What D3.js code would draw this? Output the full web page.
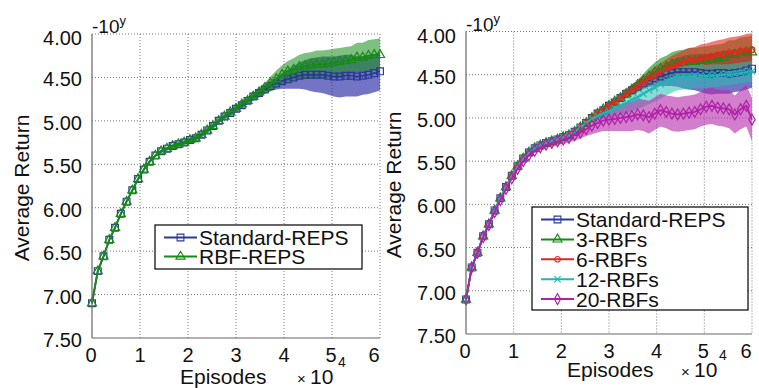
<!DOCTYPE html>
<html><head><meta charset="utf-8">
<script src="https://cdn.jsdelivr.net/npm/d3@7"></script>
<style>body{margin:0;background:#fff}svg{display:block}text{font-family:"Liberation Sans",Arial,Helvetica,sans-serif;fill:#111}</style>
</head><body><svg id="c" width="759" height="388"></svg>
<script>
const episodes = [0,1200,2400,3600,4800,6000,7200,8400,9600,10800,12000,13200,14400,15600,16800,18000,19200,20400,21600,22800,24000,25200,26400,27600,28800,30000,31200,32400,33600,34800,36000,37200,38400,39600,40800,42000,43200,44400,45600,46800,48000,49200,50400,51600,52800,54000,55200,56400,57600,58800,60000];
const yTicks = [4.0,4.5,5.0,5.5,6.0,6.5,7.0,7.5];
const xTicks = [0,10000,20000,30000,40000,50000,60000];
const xTickLabels = ["0","1","2","3","4","5","6"];

const standardMean = [7.10,6.73,6.56,6.37,6.23,6.07,5.93,5.80,5.67,5.56,
 5.47,5.40,5.35,5.32,5.29,5.27,5.25,5.22,5.20,5.16,
 5.11,5.06,5.00,4.95,4.91,4.86,4.82,4.77,4.72,4.68,
 4.64,4.60,4.57,4.54,4.52,4.50,4.48,4.47,4.47,4.47,
 4.47,4.48,4.49,4.49,4.48,4.48,4.49,4.48,4.47,4.45,4.43];
const standardSpread = [0.01,0.01,0.01,0.01,0.01,0.01,0.01,0.01,0.01,0.01,
 0.015,0.015,0.02,0.02,0.02,0.025,0.025,0.025,0.03,0.03,
 0.03,0.03,0.03,0.03,0.035,0.035,0.04,0.04,0.045,0.05,
 0.05,0.06,0.07,0.09,0.11,0.13,0.15,0.17,0.19,0.2,
 0.21,0.22,0.23,0.24,0.24,0.24,0.23,0.22,0.22,0.22,0.22];

const rbf3Mean = [7.10,6.73,6.56,6.37,6.23,6.07,5.93,5.80,5.67,5.56,
 5.47,5.40,5.35,5.32,5.29,5.27,5.25,5.22,5.20,5.16,
 5.11,5.06,5.00,4.95,4.90,4.86,4.81,4.77,4.72,4.67,
 4.62,4.57,4.52,4.47,4.43,4.41,4.38,4.37,4.36,4.35,
 4.35,4.34,4.33,4.32,4.31,4.30,4.27,4.27,4.25,4.24,4.24];
const rbf3Spread = [0.01,0.01,0.01,0.01,0.01,0.01,0.01,0.01,0.01,0.01,
 0.015,0.015,0.02,0.02,0.02,0.025,0.025,0.025,0.03,0.03,
 0.03,0.03,0.03,0.03,0.035,0.035,0.04,0.04,0.045,0.05,
 0.06,0.08,0.1,0.11,0.12,0.13,0.14,0.15,0.15,0.16,
 0.16,0.16,0.16,0.16,0.16,0.16,0.17,0.17,0.18,0.18,0.19];

const rbf6Mean = [7.10,6.73,6.56,6.37,6.23,6.07,5.93,5.80,5.67,5.56,
 5.47,5.40,5.35,5.32,5.29,5.27,5.25,5.22,5.20,5.16,
 5.11,5.06,5.00,4.95,4.91,4.86,4.82,4.77,4.72,4.68,
 4.63,4.59,4.55,4.51,4.47,4.43,4.40,4.38,4.36,4.34,
 4.33,4.31,4.30,4.29,4.27,4.26,4.25,4.24,4.23,4.22,4.21];
const rbf6Spread = [0.01,0.01,0.01,0.01,0.01,0.01,0.01,0.01,0.01,0.01,
 0.015,0.015,0.02,0.02,0.02,0.025,0.025,0.025,0.03,0.03,
 0.03,0.03,0.03,0.03,0.035,0.035,0.04,0.04,0.05,0.06,
 0.07,0.08,0.09,0.1,0.1,0.11,0.12,0.13,0.14,0.15,
 0.15,0.16,0.16,0.17,0.17,0.17,0.18,0.18,0.18,0.19,0.19];

const rbf12Mean = [7.10,6.73,6.56,6.37,6.23,6.07,5.93,5.80,5.67,5.56,
 5.47,5.40,5.35,5.32,5.29,5.27,5.25,5.22,5.20,5.16,
 5.11,5.06,5.01,4.98,4.95,4.92,4.89,4.86,4.83,4.79,
 4.76,4.72,4.68,4.65,4.61,4.57,4.54,4.52,4.52,4.52,
 4.51,4.51,4.52,4.51,4.51,4.50,4.50,4.49,4.48,4.47,4.46];
const rbf12Spread = [0.01,0.01,0.01,0.01,0.01,0.01,0.01,0.01,0.01,0.01,
 0.015,0.015,0.02,0.02,0.02,0.025,0.025,0.025,0.03,0.03,
 0.03,0.03,0.035,0.05,0.06,0.08,0.1,0.11,0.12,0.13,
 0.14,0.15,0.16,0.16,0.17,0.17,0.17,0.16,0.15,0.15,
 0.14,0.14,0.13,0.13,0.13,0.12,0.12,0.12,0.12,0.12,0.12];

const rbf20Mean = [7.10,6.73,6.56,6.38,6.24,6.09,5.95,5.82,5.70,5.59,
 5.50,5.43,5.38,5.34,5.31,5.29,5.27,5.25,5.23,5.20,
 5.17,5.13,5.09,5.06,5.03,5.02,5.01,5.00,4.99,4.98,
 4.96,4.97,4.99,4.95,4.91,4.93,4.95,4.96,4.95,4.94,
 4.93,4.90,4.87,4.86,4.88,4.89,4.90,4.96,4.90,4.86,5.02];
const rbf20Spread = [0.015,0.015,0.015,0.015,0.015,0.015,0.015,0.015,0.015,0.015,
 0.02,0.02,0.025,0.03,0.035,0.04,0.045,0.05,0.055,0.06,
 0.07,0.08,0.1,0.11,0.12,0.13,0.14,0.15,0.16,0.17,
 0.18,0.18,0.19,0.19,0.19,0.19,0.2,0.2,0.2,0.2,
 0.2,0.2,0.21,0.21,0.21,0.21,0.22,0.22,0.23,0.24,0.25];

const S = {
  standard:{name:"Standard-REPS", mean:standardMean, spread:standardSpread, line:"#2b3a96", band:"rgb(30,30,160)", bandOp:0.62, sym:d3.symbolSquare, size:46},
  rbfLeft:{name:"RBF-REPS", mean:rbf3Mean, spread:rbf3Spread, line:"#178a17", band:"rgb(20,140,20)", bandOp:0.55, sym:d3.symbolTriangle, size:36},
  rbf3:{name:"3-RBFs", mean:rbf3Mean, spread:rbf3Spread, line:"#178a17", band:"rgb(20,140,20)", bandOp:0.6, sym:d3.symbolTriangle, size:36},
  rbf6:{name:"6-RBFs", mean:rbf6Mean, spread:rbf6Spread, line:"#e0281e", band:"rgb(235,40,30)", bandOp:0.6, sym:d3.symbolCircle, size:24},
  rbf12:{name:"12-RBFs", mean:rbf12Mean, spread:rbf12Spread, line:"#1fb6b4", band:"rgb(40,190,180)", bandOp:0.55, sym:d3.symbolTimes, size:28},
  rbf20:{name:"20-RBFs", mean:rbf20Mean, spread:rbf20Spread, line:"#b020a8", band:"rgb(180,40,170)", bandOp:0.6, sym:d3.symbolDiamond, size:34}
};

const svg = d3.select("#c");

function panel(cfg){
  const g = svg.append("g");
  const x = d3.scaleLinear().domain([0,60000]).range([cfg.x0,cfg.x1]);
  const y = d3.scaleLinear().domain([4.0,7.5]).range([cfg.y0,cfg.y1]);
  g.selectAll(".gx").data(xTicks.slice(1)).join("line")
    .attr("x1",d=>x(d)).attr("x2",d=>x(d)).attr("y1",cfg.y0).attr("y2",cfg.y1)
    .attr("stroke","#777").attr("stroke-width",1).attr("stroke-dasharray","1,2");
  g.selectAll(".gy").data(yTicks.slice(0,-1)).join("line")
    .attr("x1",cfg.x0).attr("x2",cfg.x1).attr("y1",d=>y(d)).attr("y2",d=>y(d))
    .attr("stroke","#777").attr("stroke-width",1).attr("stroke-dasharray","1,2");
  const area = d3.area().x((d,i)=>x(episodes[i])).y0(d=>y(d[0]-d[1])).y1(d=>y(d[0]+d[1]));
  cfg.series.forEach(s=>{
    const pts = s.mean.map((m,i)=>[m,s.spread[i]]);
    g.append("path").attr("d",area(pts)).attr("fill",s.band).attr("fill-opacity",s.bandOp);
  });
  const line = d3.line().x((d,i)=>x(episodes[i])).y(d=>y(d));
  cfg.series.forEach(s=>{
    g.append("path").attr("d",line(s.mean)).attr("fill","none").attr("stroke",s.line).attr("stroke-width",1.8);
    g.selectAll(null).data(s.mean).join("path")
      .attr("transform",(d,i)=>`translate(${x(episodes[i])},${y(d)})`)
      .attr("d",d3.symbol(s.sym,s.size)).attr("fill","none").attr("stroke",s.line).attr("stroke-width",1.2);
  });
  g.append("line").attr("x1",cfg.x0).attr("x2",cfg.x0).attr("y1",cfg.y0).attr("y2",cfg.y1).attr("stroke","#666").attr("stroke-width",1.2);
  g.append("line").attr("x1",cfg.x0).attr("x2",cfg.x1).attr("y1",cfg.y1).attr("y2",cfg.y1).attr("stroke","#666").attr("stroke-width",1.2);
  g.selectAll(".yl").data(yTicks).join("text")
    .attr("x",cfg.x0-10).attr("y",d=>y(d)+(d===4.0?4:2)).attr("dy","0.35em")
    .attr("text-anchor","end").attr("font-size",20).text(d=>d3.format(".2f")(d));
  g.selectAll(".xl").data(xTicks).join("text")
    .attr("x",(d,i)=>x(d)+(i===6?-6:(i===0?-1:(i===5?-1:0)))).attr("y",cfg.y1+24)
    .attr("text-anchor","middle").attr("font-size",20).text((d,i)=>xTickLabels[i]);
  const t = g.append("text").attr("x",cfg.x0).attr("y",cfg.y0-1).attr("font-size",19);
  t.append("tspan").text("-10");
  t.append("tspan").attr("font-size",13).attr("dy",-8).text("y");
  g.append("text").attr("transform",`translate(${cfg.ylx},${cfg.yly}) rotate(-90)`)
    .attr("text-anchor","middle").attr("font-size",21).text("Average Return");
  g.append("text").attr("x",cfg.epx).attr("y",cfg.epy).attr("font-size",21).text("Episodes");
  g.append("text").attr("x",cfg.mulx).attr("y",cfg.epy).attr("font-size",15).text("\u00d7");
  g.append("text").attr("x",cfg.mulx+13).attr("y",cfg.epy).attr("font-size",21).text("10");
  g.append("text").attr("x",cfg.powx).attr("y",cfg.epy-17).attr("font-size",14).text("4");
  const L = cfg.legend;
  g.append("rect").attr("x",L.x).attr("y",L.y).attr("width",L.w).attr("height",L.h)
    .attr("fill","#fff").attr("stroke","#000").attr("stroke-width",1.2);
  cfg.series.forEach((s,i)=>{
    const yy = L.y + L.first + i*L.step;
    g.append("line").attr("x1",L.x+9).attr("x2",L.x+42).attr("y1",yy).attr("y2",yy).attr("stroke",s.line).attr("stroke-width",2);
    g.append("path").attr("transform",`translate(${L.x+25.5},${yy})`).attr("d",d3.symbol(s.sym,s.size)).attr("fill","none").attr("stroke",s.line).attr("stroke-width",1.1);
    g.append("text").attr("x",L.x+44).attr("y",yy).attr("dy","0.36em").attr("font-size",21).text(s.name);
  });
}

panel({x0:92,x1:380,y0:34,y1:338, series:[S.standard,S.rbfLeft],
  ylx:29, yly:188, epx:180, epy:384, mulx:297, powx:338,
  legend:{x:155,y:225,w:207,h:44,first:12.5,step:19}});
panel({x0:466,x1:752,y0:31.5,y1:334, series:[S.standard,S.rbf3,S.rbf6,S.rbf12,S.rbf20],
  ylx:401, yly:185, epx:567, epy:377, mulx:681, powx:719,
  legend:{x:532,y:207,w:216,h:103,first:12.5,step:19.9}});
</script></body></html>
